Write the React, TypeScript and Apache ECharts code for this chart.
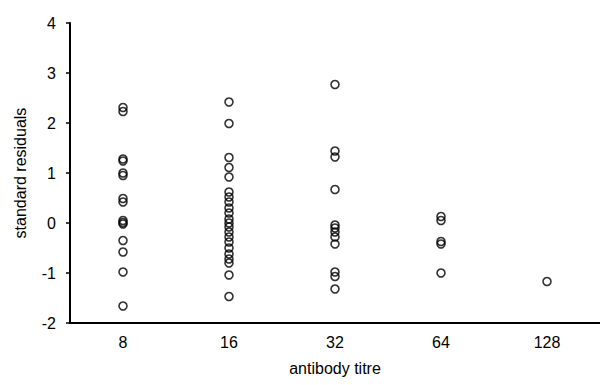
import React, { useEffect, useRef } from "react";
import * as echarts from "echarts";

const categories = ["8", "16", "32", "64", "128"];
const titre8 = [2.31, 2.23, 1.28, 1.24, 1.0, 0.95, 0.49, 0.42, 0.05, 0.01, -0.02, -0.35, -0.58, -0.98, -1.66];
const titre16 = [2.42, 1.99, 1.31, 1.11, 0.92, 0.62, 0.52, 0.42, 0.3, 0.2, 0.08, 0.0, -0.08, -0.18, -0.28, -0.38, -0.5, -0.62, -0.72, -0.8, -1.04, -1.47];
const titre32 = [2.77, 1.44, 1.32, 0.67, -0.04, -0.1, -0.18, -0.28, -0.42, -0.98, -1.07, -1.32];
const titre64 = [0.13, 0.05, -0.37, -0.42, -1.0];
const titre128 = [-1.17];
const yTicks = { min: -2, max: 4, interval: 1 };

const groups = [titre8, titre16, titre32, titre64, titre128];

export default function App() {
  const ref = useRef<HTMLDivElement>(null);
  useEffect(() => {
    if (!ref.current) return;
    const chart = echarts.init(ref.current, null, { renderer: "svg" });
    const points: [string, number][] = [];
    groups.forEach((g, i) => g.forEach((v) => points.push([categories[i], v])));
    const font = "'Liberation Sans', Arial, sans-serif";
    chart.setOption({
      animation: false,
      backgroundColor: "#ffffff",
      grid: { left: 70, right: 0, top: 23, bottom: 62, containLabel: false },
      xAxis: {
        type: "category",
        data: categories,
        boundaryGap: true,
        name: "antibody titre",
        nameLocation: "middle",
        nameGap: 37,
        nameTextStyle: { color: "#000", fontSize: 16, fontFamily: font },
        axisLine: { onZero: false, lineStyle: { color: "#000", width: 2 } },
        axisTick: { show: false },
        axisLabel: { color: "#000", fontSize: 16, fontFamily: font, margin: 11 },
        splitLine: { show: false },
      },
      yAxis: {
        type: "value",
        min: yTicks.min,
        max: yTicks.max,
        interval: yTicks.interval,
        name: "standard residuals",
        nameLocation: "middle",
        nameGap: 42,
        nameTextStyle: { color: "#000", fontSize: 16, fontFamily: font },
        axisLine: { show: true, onZero: false, lineStyle: { color: "#000", width: 2 } },
        axisTick: { show: true, length: 4, lineStyle: { color: "#000", width: 1.5 } },
        axisLabel: { color: "#000", fontSize: 16, fontFamily: font, margin: 14 },
        splitLine: { show: false },
      },
      series: [
        {
          type: "scatter",
          data: points,
          symbol: "circle",
          symbolSize: 8,
          itemStyle: { color: "rgba(255,255,255,0)", borderColor: "#000", borderWidth: 1.6 },
        },
      ],
    });
    return () => chart.dispose();
  }, []);
  return (
    <div
      ref={ref}
      style={{ position: "fixed", left: 0, top: 0, width: 600, height: 385, background: "#fff" }}
    />
  );
}
